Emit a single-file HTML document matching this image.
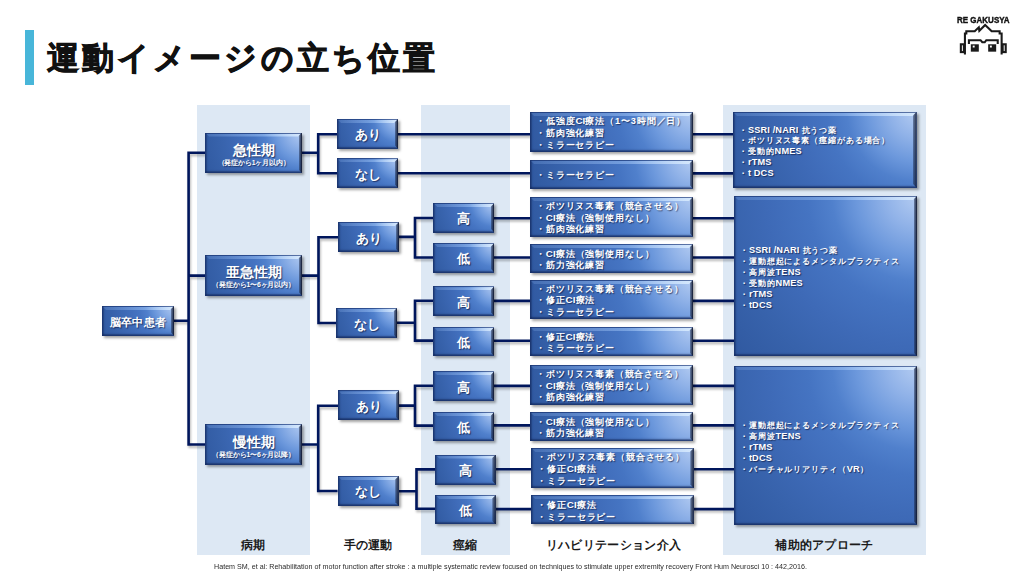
<!DOCTYPE html><html><head><meta charset="utf-8"><style>

*{margin:0;padding:0;box-sizing:border-box}
html,body{width:1024px;height:576px;overflow:hidden;background:#fff}
body{position:relative;font-family:"Liberation Sans",sans-serif}
.abs{position:absolute}
.bar{left:24.5px;top:30px;width:9.5px;height:55px;background:#48b6d9}
.title{left:47px;top:34.3px;-webkit-text-stroke:0.9px #111;font-size:32px;letter-spacing:3.1px;font-weight:bold;color:#111;white-space:nowrap;line-height:48px}
.col{position:absolute;background:#dde8f4;top:105px;height:450px}
.lbl{position:absolute;top:536.7px;font-size:12px;font-weight:bold;color:#1a1a1a;white-space:nowrap;line-height:16px;transform:translateX(-50%)}
.cite{left:213.8px;top:561.5px;font-size:7.7px;color:#2a2a2a;transform:scaleX(0.93);transform-origin:0 0;white-space:nowrap;line-height:10px}
.b{position:absolute;color:#fff;display:flex;flex-direction:column;align-items:center;justify-content:center;
 background:radial-gradient(circle farthest-corner at 100% 0%,#b4ccf2 0%,#90b2e8 13%,#6c98dc 25%,#5080cc 35%,#4574c2 45%,#3e6ab7 62%,#3762ab 80%,#3059a0 100%);
 box-shadow:1.5px 2px 2.5px rgba(0,0,0,.36),inset 0 0 0 1px rgba(25,50,105,.55),inset 3px 0 1.5px -1px rgba(15,35,85,.45),inset 0 -3px 1.5px -1px rgba(20,40,90,.6);
 text-shadow:1px 1px 1px rgba(0,0,30,.55);font-weight:bold;white-space:nowrap}
.b::before{content:"";position:absolute;left:1px;right:1px;top:1px;height:3px;background:linear-gradient(90deg,rgba(140,180,240,.22),rgba(175,210,255,.45) 60%,rgba(220,238,255,.85));clip-path:polygon(0 0,100% 0,calc(100% - 3px) 100%,3px 100%)}
.b::after{content:"";position:absolute;right:0;top:0;bottom:0;width:3.5px;background:linear-gradient(90deg,rgba(30,45,80,.45),rgba(18,24,45,.92));clip-path:polygon(0 3.5px,100% 0,100% 100%,0 calc(100% - 3.5px))}
.big{align-items:flex-start}
.cl .la{letter-spacing:0.15px;font-size:9.2px;line-height:0}
.rl .la{letter-spacing:0.1px;font-size:9.8px;line-height:0}
.t12{font-size:11.4px;letter-spacing:0.4px;line-height:14px;position:relative;top:1px}
.t13{font-size:13px;line-height:15px;position:relative;top:1px}
.t14{font-size:14px;line-height:16px;position:relative;top:1.5px}
.sub{font-size:6.9px;letter-spacing:-0.2px;line-height:9px;position:relative;top:1.5px}
.rh{align-items:flex-start}
.rl{font-size:9.3px;line-height:11.7px;padding-left:6px;letter-spacing:0.85px;position:relative;top:1.8px}
.cl{font-size:8.2px;line-height:10.85px;padding-left:6px;margin-top:6px;letter-spacing:0.9px}

</style></head><body>
<div class="abs bar"></div>
<div class="abs title">運動イメージの立ち位置</div>
<div class="abs" style="left:957px;top:15.6px;width:60px;transform:scaleY(1.18);transform-origin:0 0;font-size:8px;font-weight:bold;letter-spacing:0px;-webkit-text-stroke:0.35px #111;color:#111;line-height:7px;white-space:nowrap">RE GAKUSYA</div>
<svg class="abs" style="left:950px;top:10px" width="65" height="50" viewBox="0 0 749 576">
<g fill="none" stroke="#1a1a1a" stroke-width="24" stroke-linejoin="miter" stroke-linecap="square">
<path d="M172 500V270H188V245H285L332 200L338 240L405 172L480 245H572V270H595V500"/>
<rect x="125" y="395" width="35" height="90"/>
<rect x="607" y="395" width="35" height="90"/>
<path d="M218 380V348H352L372 372H400L418 348H550V380"/>
</g>
<g fill="#1a1a1a"><rect x="240" y="395" width="92" height="85"/><rect x="440" y="395" width="92" height="85"/></g>
<g fill="#fff"><rect x="262" y="410" width="22" height="22"/><rect x="460" y="410" width="22" height="22"/></g>
</svg>
<div class="col" style="left:197px;width:113px"></div>
<div class="col" style="left:421px;width:89px"></div>
<div class="col" style="left:723px;width:203px"></div>
<svg class="abs" style="left:0;top:0" width="1024" height="576"><defs><filter id="sh" x="-5%" y="-5%" width="110%" height="110%"><feGaussianBlur stdDeviation="0.9"/></filter></defs><path d="M188.60 151.45V445.75 M172.75 320.70H188.60 M187.35 152.70H205.00 M187.35 275.60H205.00 M187.35 444.50H205.00 M300.75 152.70H318.20 M318.20 132.95V174.55 M316.95 134.20H337.00 M316.95 173.30H337.00 M396.75 134.20H530.00 M396.75 173.30H530.00 M691.75 134.30H733.00 M691.75 173.40H733.00 M300.75 275.60H318.50 M318.50 236.05V324.25 M317.25 237.30H338.00 M317.25 323.00H336.00 M397.75 236.90H415.00 M415.00 216.75V258.75 M413.75 218.00H433.30 M413.75 257.50H433.30 M395.75 322.70H415.00 M415.00 299.55V341.85 M413.75 300.80H433.30 M413.75 340.60H433.30 M493.25 218.20H530.00 M691.75 218.20H734.00 M493.25 257.50H530.00 M691.75 257.50H734.00 M493.25 300.90H530.00 M691.75 300.90H734.00 M493.25 340.70H530.00 M691.75 340.70H734.00 M300.75 444.50H318.20 M318.20 404.55V492.25 M316.95 405.80H338.00 M316.95 491.00H337.60 M397.75 405.60H415.00 M415.00 384.55V426.85 M413.75 385.80H433.30 M413.75 425.60H433.30 M397.50 491.25H416.50 M416.50 468.15V510.00 M415.25 469.40H435.30 M415.25 508.75H435.30 M493.25 385.90H530.00 M691.75 385.90H734.00 M493.25 425.40H530.00 M691.75 425.40H734.00 M494.55 469.30H531.30 M692.55 469.30H734.00 M494.55 509.10H531.30 M692.55 509.10H734.00" stroke="rgba(0,0,0,.28)" stroke-width="2.6" fill="none" transform="translate(1,2.2)" filter="url(#sh)"/><path d="M188.60 151.45V445.75 M172.75 320.70H188.60 M187.35 152.70H205.00 M187.35 275.60H205.00 M187.35 444.50H205.00 M300.75 152.70H318.20 M318.20 132.95V174.55 M316.95 134.20H337.00 M316.95 173.30H337.00 M396.75 134.20H530.00 M396.75 173.30H530.00 M691.75 134.30H733.00 M691.75 173.40H733.00 M300.75 275.60H318.50 M318.50 236.05V324.25 M317.25 237.30H338.00 M317.25 323.00H336.00 M397.75 236.90H415.00 M415.00 216.75V258.75 M413.75 218.00H433.30 M413.75 257.50H433.30 M395.75 322.70H415.00 M415.00 299.55V341.85 M413.75 300.80H433.30 M413.75 340.60H433.30 M493.25 218.20H530.00 M691.75 218.20H734.00 M493.25 257.50H530.00 M691.75 257.50H734.00 M493.25 300.90H530.00 M691.75 300.90H734.00 M493.25 340.70H530.00 M691.75 340.70H734.00 M300.75 444.50H318.20 M318.20 404.55V492.25 M316.95 405.80H338.00 M316.95 491.00H337.60 M397.75 405.60H415.00 M415.00 384.55V426.85 M413.75 385.80H433.30 M413.75 425.60H433.30 M397.50 491.25H416.50 M416.50 468.15V510.00 M415.25 469.40H435.30 M415.25 508.75H435.30 M493.25 385.90H530.00 M691.75 385.90H734.00 M493.25 425.40H530.00 M691.75 425.40H734.00 M494.55 469.30H531.30 M692.55 469.30H734.00 M494.55 509.10H531.30 M692.55 509.10H734.00" stroke="#00165c" stroke-width="2.6" fill="none"/></svg>
<div class="b" style="left:102.00px;top:306.00px;width:72.00px;height:29.50px"><span class="t12">脳卒中患者</span></div>
<div class="b per" style="left:205.00px;top:132.50px;width:97.00px;height:40.50px"><span class="t14">急性期</span><span class="sub">（発症から1ヶ月以内）</span></div>
<div class="b per" style="left:205.00px;top:255.00px;width:97.00px;height:40.50px"><span class="t14">亜急性期</span><span class="sub">（発症から1〜6ヶ月以内）</span></div>
<div class="b per" style="left:205.00px;top:424.00px;width:97.00px;height:41.00px"><span class="t14">慢性期</span><span class="sub">（発症から1〜6ヶ月以降）</span></div>
<div class="b" style="left:337.00px;top:119.00px;width:61.00px;height:29.50px"><span class="t13">あり</span></div>
<div class="b" style="left:337.00px;top:158.40px;width:61.00px;height:29.30px"><span class="t13">なし</span></div>
<div class="b" style="left:338.00px;top:222.00px;width:61.00px;height:30.00px"><span class="t13">あり</span></div>
<div class="b" style="left:336.00px;top:308.00px;width:61.00px;height:30.00px"><span class="t13">なし</span></div>
<div class="b" style="left:338.00px;top:390.40px;width:61.00px;height:29.60px"><span class="t13">あり</span></div>
<div class="b" style="left:337.60px;top:476.00px;width:61.15px;height:29.80px"><span class="t13">なし</span></div>
<div class="b" style="left:433.30px;top:203.00px;width:61.20px;height:29.50px"><span class="t13">高</span></div>
<div class="b" style="left:433.30px;top:243.00px;width:61.20px;height:29.50px"><span class="t13">低</span></div>
<div class="b" style="left:433.30px;top:286.25px;width:61.20px;height:29.75px"><span class="t13">高</span></div>
<div class="b" style="left:433.30px;top:327.00px;width:61.20px;height:29.25px"><span class="t13">低</span></div>
<div class="b" style="left:433.30px;top:371.25px;width:61.20px;height:29.75px"><span class="t13">高</span></div>
<div class="b" style="left:433.30px;top:412.00px;width:61.20px;height:29.25px"><span class="t13">低</span></div>
<div class="b" style="left:435.30px;top:454.50px;width:60.50px;height:30.00px"><span class="t13">高</span></div>
<div class="b" style="left:435.30px;top:495.00px;width:60.50px;height:29.40px"><span class="t13">低</span></div>
<div class="b rh" style="left:530.00px;top:112.00px;width:163.00px;height:40.00px"><div class="rl">・低強度<span class="la">CI</span>療法（1〜3時間／日）<br>・筋肉強化練習<br>・ミラーセラピー</div></div>
<div class="b rh" style="left:530.00px;top:160.00px;width:163.00px;height:28.50px"><div class="rl">・ミラーセラピー</div></div>
<div class="b rh" style="left:530.00px;top:197.00px;width:163.00px;height:39.50px"><div class="rl">・ボツリヌス毒素（競合させる）<br>・<span class="la">CI</span>療法（強制使用なし）<br>・筋肉強化練習</div></div>
<div class="b rh" style="left:530.00px;top:244.00px;width:163.00px;height:29.00px"><div class="rl">・<span class="la">CI</span>療法（強制使用なし）<br>・筋力強化練習</div></div>
<div class="b rh" style="left:530.00px;top:280.00px;width:163.00px;height:39.00px"><div class="rl">・ボツリヌス毒素（競合させる）<br>・修正<span class="la">CI</span>療法<br>・ミラーセラピー</div></div>
<div class="b rh" style="left:530.00px;top:327.00px;width:163.00px;height:29.00px"><div class="rl">・修正<span class="la">CI</span>療法<br>・ミラーセラピー</div></div>
<div class="b rh" style="left:530.00px;top:365.00px;width:163.00px;height:39.50px"><div class="rl">・ボツリヌス毒素（競合させる）<br>・<span class="la">CI</span>療法（強制使用なし）<br>・筋肉強化練習</div></div>
<div class="b rh" style="left:530.00px;top:412.00px;width:163.00px;height:29.00px"><div class="rl">・<span class="la">CI</span>療法（強制使用なし）<br>・筋力強化練習</div></div>
<div class="b rh" style="left:531.30px;top:448.00px;width:162.50px;height:40.00px"><div class="rl">・ボツリヌス毒素（競合させる）<br>・修正<span class="la">CI</span>療法<br>・ミラーセラピー</div></div>
<div class="b rh" style="left:531.30px;top:495.30px;width:162.50px;height:29.10px"><div class="rl">・修正<span class="la">CI</span>療法<br>・ミラーセラピー</div></div>
<div class="b big" style="left:733.00px;top:112.00px;width:183.50px;height:75.50px"><div class="cl">・<span class="la">SSRI /NARI</span> 抗うつ薬<br>・ボツリヌス毒素（痙縮がある場合）<br>・受動的<span class="la">NMES</span><br>・<span class="la">rTMS</span><br>・<span class="la">t DCS</span></div></div>
<div class="b big" style="left:734.00px;top:196.00px;width:183.00px;height:160.00px"><div class="cl">・<span class="la">SSRI /NARI</span> 抗うつ薬<br>・運動想起によるメンタルプラクティス<br>・高周波<span class="la">TENS</span><br>・受動的<span class="la">NMES</span><br>・<span class="la">rTMS</span><br>・<span class="la">tDCS</span></div></div>
<div class="b big" style="left:734.00px;top:366.00px;width:183.00px;height:158.50px"><div class="cl">・運動想起によるメンタルプラクティス<br>・高周波<span class="la">TENS</span><br>・<span class="la">rTMS</span><br>・<span class="la">tDCS</span><br>・バーチャルリアリティ（<span class="la">VR</span>）</div></div>
<div class="lbl" style="left:253px;letter-spacing:0px">病期</div>
<div class="lbl" style="left:368px;letter-spacing:0px">手の運動</div>
<div class="lbl" style="left:465px;letter-spacing:0px">痙縮</div>
<div class="lbl" style="left:613.5px;letter-spacing:0.3px">リハビリテーション介入</div>
<div class="lbl" style="left:824.5px;letter-spacing:0.3px">補助的アプローチ</div>
<div class="abs cite">Hatem SM, et al: Rehabilitation of motor function after stroke : a multiple systematic review focused on techniques to stimulate upper extremity recovery Front Hum Neurosci 10 : 442,2016.</div>
</body></html>
